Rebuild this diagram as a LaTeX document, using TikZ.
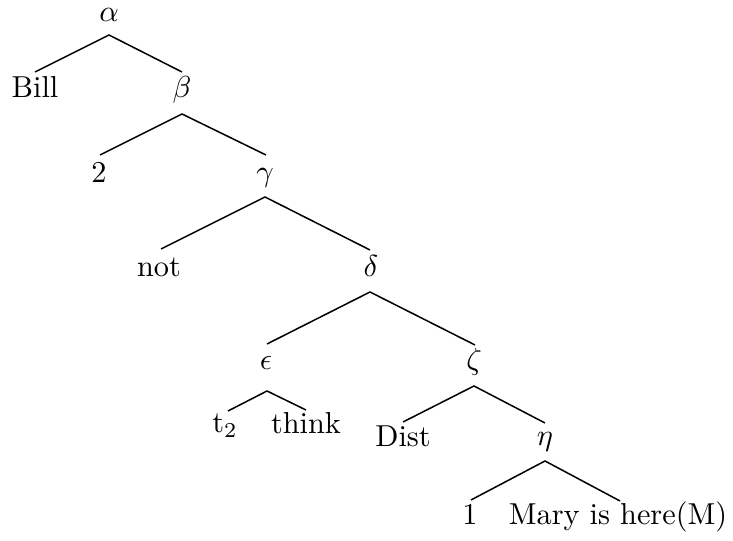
\documentclass[tikz,border=0pt]{standalone}
\usetikzlibrary{calc}
\begin{document}
\begin{tikzpicture}[x=0.33pt,y=-0.33pt,
  lbl/.style={anchor=base,inner sep=0pt},
  edge/.style={line width=0.5pt}]
\useasboundingbox (0,0) rectangle (733,541);
% labels
\node[lbl] (alpha) at (109,22) {$\alpha$};
\node[lbl] (bill)  at (35,98)  {Bill};
\node[lbl] (beta)  at (182,98) {$\beta$};
\node[lbl] (two)   at (99,183) {2};
\node[lbl] (gamma) at (265,182) {$\gamma$};
\node[lbl] (not)   at (159,277) {not};
\node[lbl] (delta) at (371,277) {$\delta$};
\node[lbl] (eps)   at (266,370) {$\epsilon$};
\node[lbl] (zeta)  at (474,370) {$\zeta$};
\node[lbl] (t2)    at (225,433) {t$_2$};
\node[lbl] (think) at (306,434) {think};
\node[lbl] (dist)  at (403,447) {Dist};
\node[lbl] (eta)   at (545,446) {$\eta$};
\node[lbl] (one)   at (470,525) {1};
\node[lbl] (mary)  at (618,525) {Mary is here(M)};
% branches
\draw[edge] ($(bill.base)+(0,-26)$) -- ($(alpha.base)+(0,13)$) -- ($(beta.base)+(0,-26)$);
\draw[edge] ($(two.base)+(1,-28)$) -- ($(beta.base)+(0,16)$) -- ($(gamma.base)+(1,-27)$);
\draw[edge] ($(not.base)+(2,-28)$) -- ($(gamma.base)+(0,15)$) -- ($(delta.base)+(-1,-27)$);
\draw[edge] ($(eps.base)+(1,-26)$) -- ($(delta.base)+(-1,15)$) -- ($(zeta.base)+(1,-25)$);
\draw[edge] ($(t2.base)+(3,-22)$) -- ($(eps.base)+(1,21)$) -- ($(think.base)+(0,-24)$);
\draw[edge] ($(dist.base)+(0,-25)$) -- ($(zeta.base)+(0,16)$) -- ($(eta.base)+(0,-23)$);
\draw[edge] ($(one.base)+(1,-25)$) -- ($(eta.base)+(0,15)$) -- ($(mary.base)+(2,-24)$);
\end{tikzpicture}
\end{document}
